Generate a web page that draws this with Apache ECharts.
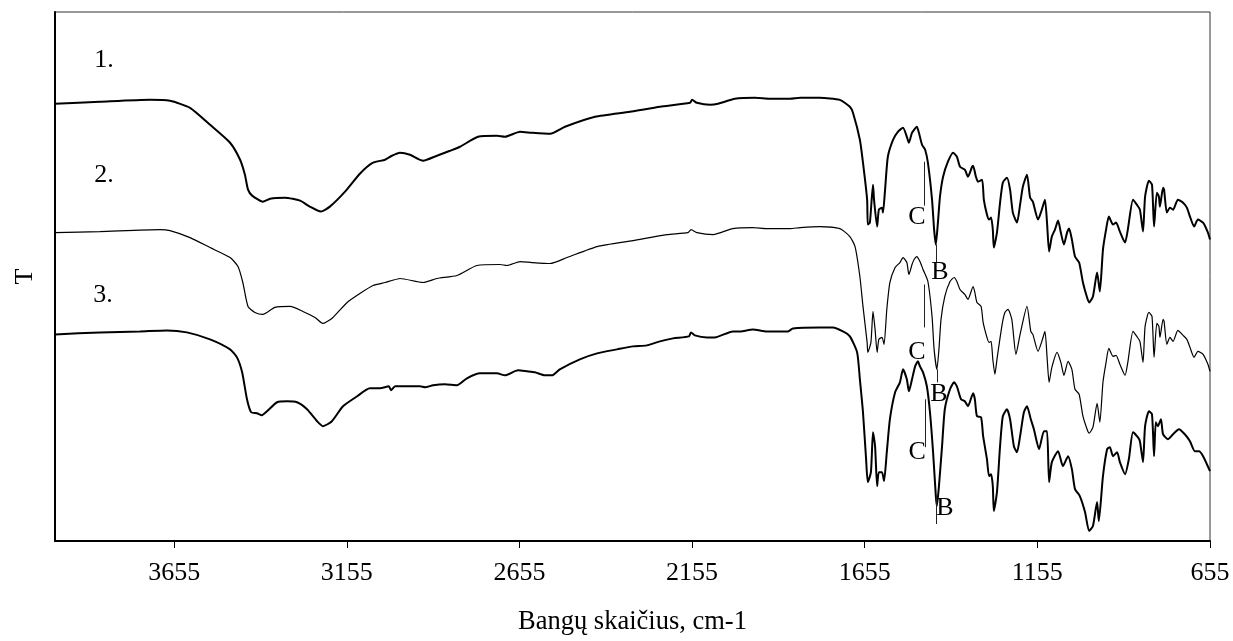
<!DOCTYPE html>
<html>
<head>
<meta charset="utf-8">
<title>IR spektrai</title>
<script src="https://cdn.jsdelivr.net/npm/echarts@6/dist/echarts.min.js"></script>
<style>
    html, body { margin: 0; padding: 0; background: #fff; }
    #chart { width: 1233px; height: 641px; }
</style>
</head>
<body>
<div id="chart"></div>
<script>
// banginis skaičius (cm-1), pralaidumas (santykiniai vnt.)
var spectrum1 = [
    [4000,43.8],[3870,44.0],[3725,44.2],[3667,44.1],[3609,43.4],[3551,41.7],[3493,39.9],[3464,38.2],[3450,36.7],[3441,35.2],
    [3429,34.6],[3398,34.0],[3377,34.3],[3334,34.4],[3290,34.1],[3262,33.5],[3230,33.0],[3204,33.5],[3160,35.0],[3117,36.8],
    [3079,37.9],[3044,38.2],[3024,38.6],[3001,38.9],[2972,38.7],[2934,38.1],[2894,38.6],[2856,39.1],[2827,39.5],[2775,40.5],
    [2720,40.6],[2697,40.5],[2653,41.0],[2619,40.9],[2566,40.8],[2523,41.5],[2436,42.5],[2335,43.0],[2248,43.5],[2161,43.9],
    [2155,44.2],[2141,43.9],[2103,43.7],[2080,43.8],[2031,44.3],[1973,44.4],[1929,44.3],[1871,44.3],[1842,44.4],[1785,44.4],
    [1727,44.2],[1698,43.5],[1689,42.9],[1669,40.2],[1660,37.9],[1648,34.2],[1646,31.7],[1640,31.9],[1631,35.7],[1628,34.2],
    [1619,31.5],[1614,33.2],[1605,33.4],[1602,32.9],[1596,35.2],[1588,38.5],[1573,40.2],[1559,41.0],[1544,41.4],[1533,40.5],
    [1527,39.9],[1518,40.9],[1504,41.5],[1498,40.9],[1489,39.7],[1480,39.2],[1472,37.9],[1460,34.2],[1454,31.2],[1449,29.7],
    [1443,31.9],[1437,34.5],[1428,36.5],[1414,38.0],[1399,38.9],[1388,38.5],[1379,37.5],[1365,37.2],[1356,36.5],[1344,37.5],
    [1341,37.6],[1333,36.5],[1327,36.0],[1315,36.2],[1310,34.2],[1301,32.7],[1295,32.2],[1289,32.4],[1284,31.2],[1281,29.4],
    [1272,30.9],[1263,33.9],[1255,35.9],[1243,36.4],[1234,35.2],[1226,32.9],[1214,31.9],[1205,33.7],[1197,35.5],[1185,36.7],
    [1176,34.4],[1168,34.0],[1153,32.2],[1142,33.2],[1133,34.2],[1127,31.9],[1121,29.0],[1113,30.5],[1104,31.2],[1095,32.1],
    [1087,30.9],[1078,29.7],[1069,30.9],[1063,31.3],[1055,30.2],[1046,28.5],[1034,27.9],[1023,25.9],[1011,24.4],[1005,23.9],
    [994,24.5],[982,26.9],[974,25.0],[965,29.2],[956,31.2],[948,32.5],[936,31.7],[927,31.9],[916,31.0],[901,29.9],
    [893,31.2],[878,34.2],[867,33.7],[858,33.2],[849,31.0],[843,34.5],[832,36.1],[823,35.7],[817,31.5],[809,34.9],
    [803,34.5],[800,33.5],[791,35.4],[788,35.2],[780,32.9],[771,33.4],[762,33.2],[748,34.2],[733,33.9],[722,33.4],
    [713,32.5],[701,31.5],[690,32.2],[675,31.9],[661,30.9],[655,30.2]
];

var spectrum2 = [
    [4000,30.9],[3870,31.0],[3696,31.2],[3667,31.1],[3609,30.4],[3551,29.4],[3493,28.4],[3470,27.5],[3456,25.9],[3441,23.5],
    [3421,22.9],[3398,22.7],[3363,23.4],[3319,23.5],[3282,23.0],[3247,22.4],[3224,21.8],[3195,22.4],[3154,23.9],[3117,24.8],
    [3079,25.6],[3044,25.9],[3024,26.1],[3001,26.3],[2934,25.9],[2894,26.3],[2836,26.6],[2778,27.6],[2711,27.7],[2691,27.6],
    [2653,28.0],[2619,27.9],[2566,27.8],[2517,28.4],[2430,29.5],[2326,30.1],[2228,30.7],[2167,30.9],[2158,31.2],[2141,30.9],
    [2094,30.7],[2037,31.3],[1979,31.4],[1938,31.3],[1871,31.3],[1842,31.4],[1785,31.5],[1727,31.3],[1698,30.5],[1683,29.5],
    [1669,26.5],[1660,23.5],[1648,19.9],[1646,18.9],[1637,19.9],[1631,23.0],[1625,21.2],[1619,18.9],[1614,20.2],[1605,20.4],
    [1599,19.7],[1591,23.2],[1582,25.9],[1567,27.4],[1553,27.9],[1544,28.4],[1533,27.9],[1527,26.7],[1518,27.7],[1512,28.2],
    [1504,28.5],[1495,28.0],[1486,27.2],[1472,26.0],[1460,22.5],[1454,19.2],[1446,17.2],[1440,19.2],[1434,22.2],[1423,24.5],
    [1408,26.0],[1396,26.4],[1388,26.0],[1379,25.2],[1365,24.7],[1356,24.2],[1341,25.5],[1336,24.9],[1330,23.9],[1318,23.5],
    [1312,21.9],[1301,20.4],[1295,19.9],[1289,20.0],[1284,18.2],[1278,16.7],[1272,18.2],[1257,21.7],[1249,22.9],[1240,23.2],
    [1229,22.2],[1217,18.7],[1205,20.7],[1185,23.5],[1174,21.0],[1168,20.7],[1153,19.0],[1142,20.0],[1133,21.0],[1127,18.5],
    [1121,15.9],[1113,17.4],[1098,18.9],[1087,17.9],[1078,16.6],[1066,18.0],[1055,17.2],[1046,15.2],[1034,14.7],[1023,12.5],
    [1011,11.2],[1005,10.8],[994,11.4],[982,13.8],[974,11.9],[965,15.9],[956,17.9],[948,19.3],[936,18.5],[927,18.6],
    [916,17.7],[901,16.6],[893,17.9],[878,21.0],[867,20.5],[858,20.0],[849,17.9],[843,21.5],[832,22.9],[823,22.5],
    [817,18.4],[809,21.8],[803,21.5],[800,20.4],[791,22.2],[788,22.0],[780,19.7],[771,20.4],[762,20.0],[748,21.1],
    [733,20.6],[722,20.2],[713,19.4],[701,18.4],[690,19.0],[675,18.7],[661,17.7],[655,17.0]
];

var spectrum3 = [
    [4000,20.7],[3870,20.9],[3754,21.0],[3676,21.1],[3618,20.9],[3551,20.2],[3493,19.2],[3473,18.4],[3458,16.9],[3444,14.2],
    [3432,12.9],[3415,12.8],[3401,12.6],[3386,13.0],[3357,13.9],[3328,14.0],[3299,13.9],[3270,13.2],[3241,12.0],[3224,11.5],
    [3198,12.0],[3166,13.5],[3125,14.5],[3088,15.3],[3059,15.3],[3033,15.5],[3027,15.1],[3015,15.5],[2943,15.5],[2928,15.4],
    [2905,15.6],[2871,15.7],[2836,15.6],[2807,16.3],[2769,16.8],[2720,16.8],[2697,16.6],[2659,17.1],[2633,17.0],[2610,16.9],
    [2581,16.6],[2561,16.6],[2538,17.2],[2480,18.2],[2430,18.8],[2372,19.2],[2326,19.5],[2286,19.6],[2248,20.0],[2210,20.3],
    [2164,20.5],[2158,20.9],[2147,20.6],[2112,20.4],[2089,20.4],[2037,21.0],[2016,21.0],[1979,21.2],[1938,21.0],[1877,21.0],
    [1863,21.3],[1785,21.4],[1747,21.4],[1718,21.0],[1698,20.5],[1677,18.9],[1669,16.2],[1660,12.9],[1651,8.2],[1646,5.9],
    [1637,6.9],[1631,10.9],[1625,9.5],[1619,5.5],[1614,6.9],[1605,6.9],[1599,6.0],[1591,8.9],[1582,12.2],[1567,14.9],
    [1553,15.9],[1544,17.2],[1533,16.2],[1527,15.0],[1518,16.2],[1509,17.5],[1501,18.0],[1495,17.5],[1486,16.9],[1475,15.5],
    [1466,12.9],[1457,8.9],[1449,4.5],[1446,3.5],[1440,5.5],[1431,9.5],[1423,13.2],[1408,15.2],[1396,15.9],[1388,15.5],
    [1376,14.2],[1365,14.0],[1356,13.5],[1341,14.8],[1336,14.2],[1330,12.5],[1318,12.4],[1312,10.5],[1301,8.2],[1295,6.5],
    [1289,6.7],[1284,5.5],[1281,3.0],[1272,4.9],[1263,9.5],[1255,12.5],[1243,13.2],[1234,12.2],[1223,9.5],[1214,8.9],
    [1205,10.5],[1194,12.9],[1185,13.5],[1174,12.2],[1165,11.2],[1150,9.2],[1136,11.0],[1127,11.0],[1121,5.9],[1113,7.9],
    [1095,9.0],[1081,7.5],[1066,8.5],[1055,7.2],[1046,5.2],[1032,4.5],[1017,2.9],[1005,1.0],[994,1.5],[982,3.9],
    [977,2.0],[965,6.5],[953,9.2],[945,9.4],[936,8.5],[924,8.9],[916,7.9],[901,6.7],[890,8.2],[878,10.9],
    [864,10.4],[858,10.0],[849,7.9],[843,11.5],[832,13.0],[823,12.7],[817,8.5],[812,11.9],[806,11.5],[797,12.2],
    [791,10.7],[777,10.2],[762,10.7],[745,11.2],[728,10.7],[713,10.0],[699,9.0],[687,9.0],[675,8.5],[655,7.0]
];

var xTicks = [3655, 3155, 2655, 2155, 1655, 1155, 655];

// spektrų numeriai: [tekstas, cm-1, T]
var traceLabels = [['1.', 3858, 48.2], ['2.', 3858, 36.7], ['3.', 3861, 24.6]];

// juostų žymės: [cm-1, T nuo, T iki]
var markerLines = [
    [1483, 38.0, 33.6], [1449, 29.7, 27.9],
    [1483, 25.7, 21.4], [1446, 17.2, 15.9],
    [1480, 14.2, 9.4], [1449, 4.5, 1.7]
];
var markerLetters = [
    ['C', 1504, 32.4], ['B', 1437, 26.9],
    ['C', 1504, 18.9], ['B', 1440, 14.7],
    ['C', 1503, 8.9], ['B', 1423, 3.3]
];

var serif = "'Liberation Serif', 'Times New Roman', serif";

var chart = echarts.init(document.getElementById('chart'));

function spectrumSeries(name, data, width) {
    return {
        name: name,
        type: 'line',
        data: data,
        showSymbol: false,
        symbol: 'none',
        smooth: 0.2,
        lineStyle: { color: '#000', width: width }
    };
}

var s3 = spectrumSeries('3.', spectrum3, 2);
s3.markLine = {
    silent: true,
    symbol: 'none',
    label: { show: false },
    lineStyle: { color: '#222', width: 1, type: 'solid' },
    data: markerLines.map(function (m) {
        return [{ coord: [m[0], m[1]] }, { coord: [m[0], m[2]] }];
    })
};

var option = {
    animation: false,
    backgroundColor: '#fff',
    grid: {
        left: 55, right: 23, top: 12, bottom: 99,
        show: true,
        borderColor: '#333',
        borderWidth: 1
    },
    xAxis: {
        type: 'value',
        inverse: true,
        min: 655,
        max: 4000,
        name: 'Bangų skaičius, cm-1',
        nameLocation: 'middle',
        nameGap: 68,
        nameTextStyle: { fontFamily: serif, fontSize: 26.5, color: '#000' },
        axisLine: { show: true, lineStyle: { color: '#000', width: 2 } },
        axisTick: { show: true, customValues: xTicks, length: 7, lineStyle: { color: '#000', width: 1 } },
        axisLabel: {
            customValues: xTicks,
            margin: 19,
            fontFamily: serif,
            fontSize: 26,
            color: '#000',
            formatter: function (v) { return String(v); }
        },
        splitLine: { show: false }
    },
    yAxis: {
        type: 'value',
        min: 0,
        max: 53,
        name: 'T',
        nameLocation: 'middle',
        nameGap: 17,
        nameTextStyle: { fontFamily: serif, fontSize: 26, color: '#000' },
        axisLine: { show: true, lineStyle: { color: '#000', width: 2 } },
        axisTick: { show: false },
        axisLabel: { show: false },
        splitLine: { show: false }
    },
    series: [
        spectrumSeries('1.', spectrum1, 2),
        spectrumSeries('2.', spectrum2, 1.2),
        s3
    ]
};

chart.setOption(option);

// užrašai dedami pagal ašių koordinates
var texts = traceLabels.concat(markerLetters).map(function (d) {
    var p = chart.convertToPixel({ gridIndex: 0 }, [d[1], d[2]]);
    return {
        type: 'text',
        x: p[0],
        y: p[1],
        z: 10,
        silent: true,
        style: {
            text: d[0],
            fill: '#000',
            font: '26px ' + serif,
            textAlign: 'center',
            textVerticalAlign: 'middle'
        }
    };
});
chart.setOption({ graphic: texts });
</script>
</body>
</html>
